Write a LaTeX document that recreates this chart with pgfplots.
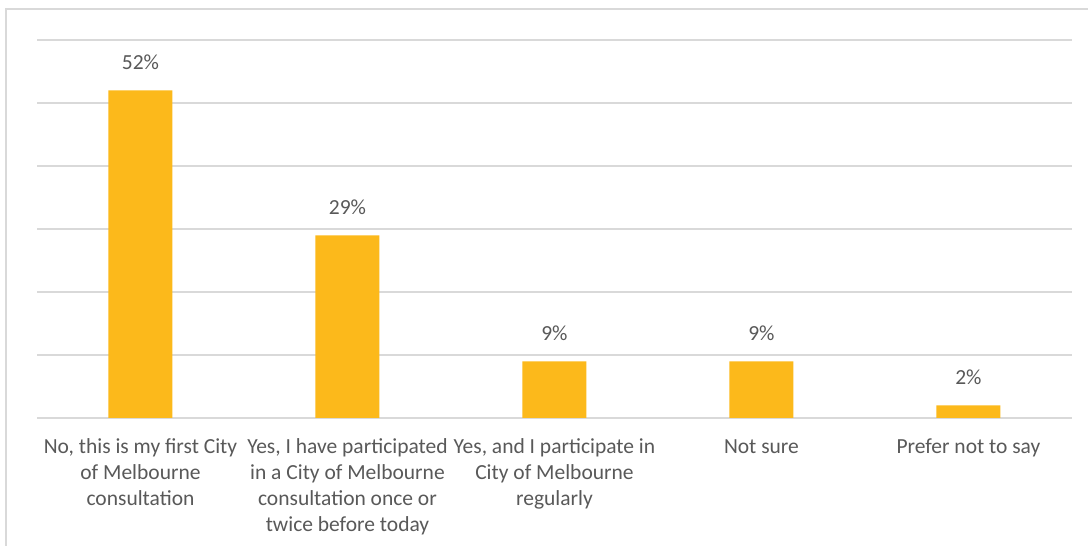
\documentclass[border=0pt]{standalone}
\usepackage{fontspec}
\setmainfont{Carlito}
\usepackage{pgfplots}
\pgfplotsset{compat=1.18}
\definecolor{bargold}{HTML}{FCB91B}
\definecolor{txt}{HTML}{595959}
\definecolor{gridc}{HTML}{D9D9D9}
\begin{document}
\fontsize{21.5pt}{26pt}\selectfont
\begin{tikzpicture}[x=1pt,y=1pt]
\useasboundingbox (0,0) rectangle (1088,546);
\fill[white] (0,0) rectangle (1088,546);
\draw[gridc, line width=1.5pt] (6,0) -- (6,537) -- (1088,537);
\begin{axis}[
  at={(37pt,128pt)}, anchor=south west,
  scale only axis, width=1035pt, height=378pt,
  xmin=-0.5, xmax=4.5, ymin=0, ymax=60,
  axis line style={draw=none},
  /pgf/number format/assume math mode=true,
  ytick={0,10,...,60}, yticklabels={},
  ymajorgrids, grid style={gridc, line width=1.3pt},
  major tick length=0pt,
  xtick={0,1,2,3,4},
  typeset ticklabels with strut,
  xticklabels={{No, this is my first City\\of Melbourne\\consultation},
               {Yes, I have participated\\in a City of Melbourne\\consultation once or\\twice before today},
               {Yes, and I participate in\\City of Melbourne\\regularly},
               {Not sure},
               {Prefer not to say}},
  xticklabel style={align=center, text=txt, font=\fontsize{21.5pt}{26pt}\selectfont, yshift=-10pt},
  ybar, bar width=64pt,
  nodes near coords={\pgfmathprintnumber{\pgfplotspointmeta}\%},
  every node near coord/.append style={text=txt, font=\fontsize{21.5pt}{26pt}\selectfont, yshift=13.5pt},
]
\addplot[fill=bargold, draw=none] coordinates {(0,52) (1,29) (2,9) (3,9) (4,2)};
\end{axis}
\end{tikzpicture}
\end{document}
